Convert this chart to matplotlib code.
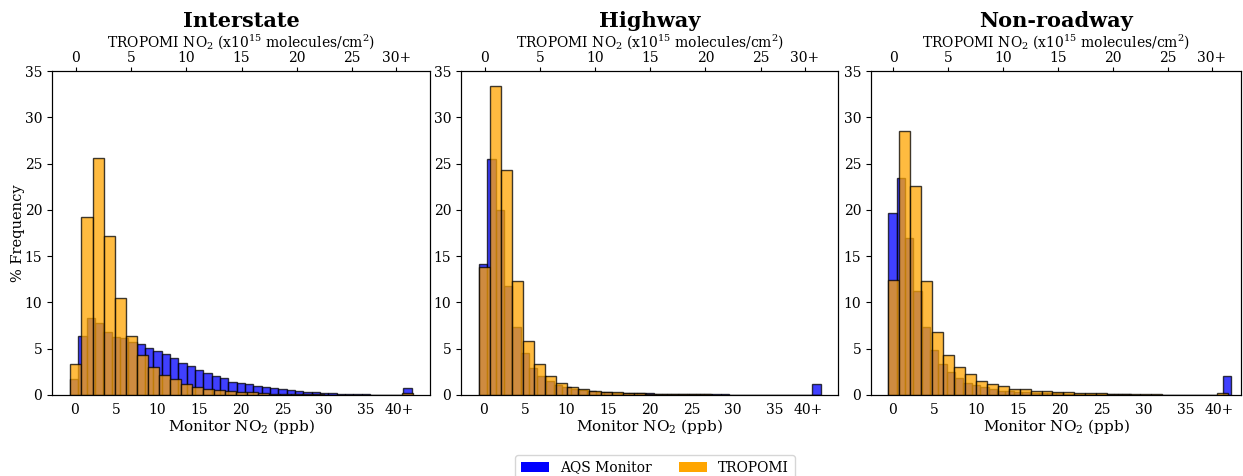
import numpy as np
import matplotlib
matplotlib.use("Agg")
import matplotlib.pyplot as plt
from matplotlib.patches import Patch

plt.rcParams['font.family'] = ['DejaVu Serif']
plt.rcParams['mathtext.fontset'] = 'dejavuserif'

titles = ["Interstate", "Highway", "Non-roadway"]

# % frequency per 1-ppb bin (0..39, then 40+)
aqs_interstate = [1.7, 6.35, 8.3, 7.75, 6.85, 6.3, 6.2, 5.75, 5.55, 5.05,
                  4.7, 4.4, 4.05, 3.5, 3.15, 2.65, 2.35, 2.05, 1.85, 1.45,
                  1.3, 1.15, 1.0, 0.85, 0.75, 0.6, 0.5, 0.4, 0.32, 0.28,
                  0.25, 0.2, 0.15, 0.12, 0.08, 0.06, 0.05, 0.05, 0.04, 0.03,
                  0.75]
aqs_highway = [14.15, 25.5, 19.95, 11.75, 7.35, 4.5, 2.9, 2.1, 1.55, 1.1,
               0.85, 0.6, 0.5, 0.4, 0.35, 0.3, 0.27, 0.25, 0.22, 0.2,
               0.18, 0.16, 0.15, 0.13, 0.12, 0.1, 0.09, 0.08, 0.07, 0.06,
               0.05, 0.04, 0.03, 0.03, 0.02, 0.02, 0.02, 0.02, 0.02, 0.02,
               1.2]
aqs_nonroad = [19.65, 23.4, 16.95, 11.25, 7.35, 4.85, 3.35, 2.5, 1.8, 1.35,
               1.1, 0.9, 0.6, 0.45, 0.4, 0.32, 0.28, 0.25, 0.22, 0.2,
               0.18, 0.15, 0.13, 0.12, 0.1, 0.09, 0.08, 0.07, 0.06, 0.05,
               0.04, 0.04, 0.03, 0.03, 0.02, 0.02, 0.02, 0.02, 0.02, 0.02,
               2.05]

# % frequency per 1e15 bin (0..29, then 30+)
trop_interstate = [3.4, 19.2, 25.6, 17.2, 10.5, 6.4, 4.35, 3.05, 2.2, 1.7,
                   1.2, 0.9, 0.7, 0.55, 0.45, 0.35, 0.28, 0.2, 0.15, 0.12,
                   0.1, 0.08, 0.06, 0.05, 0.04, 0.03, 0.02, 0.02, 0.01, 0.01,
                   0.25]
trop_highway = [13.8, 33.35, 24.3, 12.3, 5.8, 3.4, 2.1, 1.35, 0.85, 0.65,
                0.45, 0.35, 0.28, 0.22, 0.18, 0.15, 0.12, 0.1, 0.08, 0.07,
                0.06, 0.05, 0.04, 0.03, 0.03, 0.02, 0.02, 0.01, 0.01, 0.01,
                0.05]
trop_nonroad = [12.4, 28.55, 22.55, 12.3, 6.85, 4.3, 3.0, 2.25, 1.55, 1.2,
                0.95, 0.7, 0.6, 0.45, 0.4, 0.3, 0.28, 0.25, 0.2, 0.2,
                0.1, 0.1, 0.08, 0.07, 0.06, 0.05, 0.04, 0.03, 0.02, 0.02,
                0.2]

aqs_all = [aqs_interstate, aqs_highway, aqs_nonroad]
trop_all = [trop_interstate, trop_highway, trop_nonroad]

bottom_ticks = [0, 5, 10, 15, 20, 25, 30, 35, 39]
bottom_labels = ["0", "5", "10", "15", "20", "25", "30", "35", "40+"]
top_ticks = [0, 5, 10, 15, 20, 25, 29]
top_labels = ["0", "5", "10", "15", "20", "25", "30+"]

W, H = 1243, 476
fig = plt.figure(figsize=(W / 100, H / 100), dpi=100)

# pixel extents of each panel
lefts = [52, 461, 871]
rights = [430, 838, 1241]
top_px, bot_px = 71, 395
xlims_bottom = [(-2.68, 42.7), (-2.68, 42.6), (-2.55, 41.66)]
xlims_top = [(-2.17, 32.07), (-2.13, 32.0), (-2.03, 31.67)]

for i in range(3):
    l, r = lefts[i], rights[i]
    ax = fig.add_axes([l / W, 1 - bot_px / H, (r - l) / W, (bot_px - top_px) / H])
    aqs = np.array(aqs_all[i])
    trop = np.array(trop_all[i])
    ax.bar(np.arange(len(aqs)), aqs, width=1.0, color='blue', alpha=0.75,
           edgecolor='black', linewidth=1.0)
    ax.set_xlim(*xlims_bottom[i])
    ax.set_ylim(0, 35)
    ax.set_yticks(np.arange(0, 36, 5))
    ax.set_xticks(bottom_ticks)
    ax.set_xticklabels(bottom_labels)
    ax.tick_params(axis='x', length=0, labelsize=10, pad=6)
    ax.tick_params(axis='y', labelsize=10)
    ax.set_xlabel("Monitor NO$_2$ (ppb)", fontsize=11, labelpad=0)
    if i == 0:
        ax.set_ylabel("% Frequency", fontsize=10.5, labelpad=0)

    axt = ax.twiny()
    axt.bar(np.arange(len(trop)), trop, width=1.0, color='orange', alpha=0.75,
            edgecolor='black', linewidth=1.0)
    axt.set_xlim(*xlims_top[i])
    axt.set_ylim(0, 35)
    axt.set_xticks(top_ticks)
    axt.set_xticklabels(top_labels)
    axt.tick_params(axis='x', labelsize=10, pad=1.5, length=3)
    axt.set_xlabel("TROPOMI NO$_2$ (x10$^{15}$ molecules/cm$^2$)", fontsize=10, labelpad=2)
    axt.set_title(titles[i], fontsize=15, fontweight='bold', pad=4.5)

handles = [Patch(facecolor='blue', label='AQS Monitor'),
           Patch(facecolor='orange', label='TROPOMI')]
fig.legend(handles=handles, loc='upper center', ncol=2,
           bbox_to_anchor=(655 / W, 1 - 448 / H), fontsize=10, frameon=True)

fig.savefig("out.png", dpi=100)
